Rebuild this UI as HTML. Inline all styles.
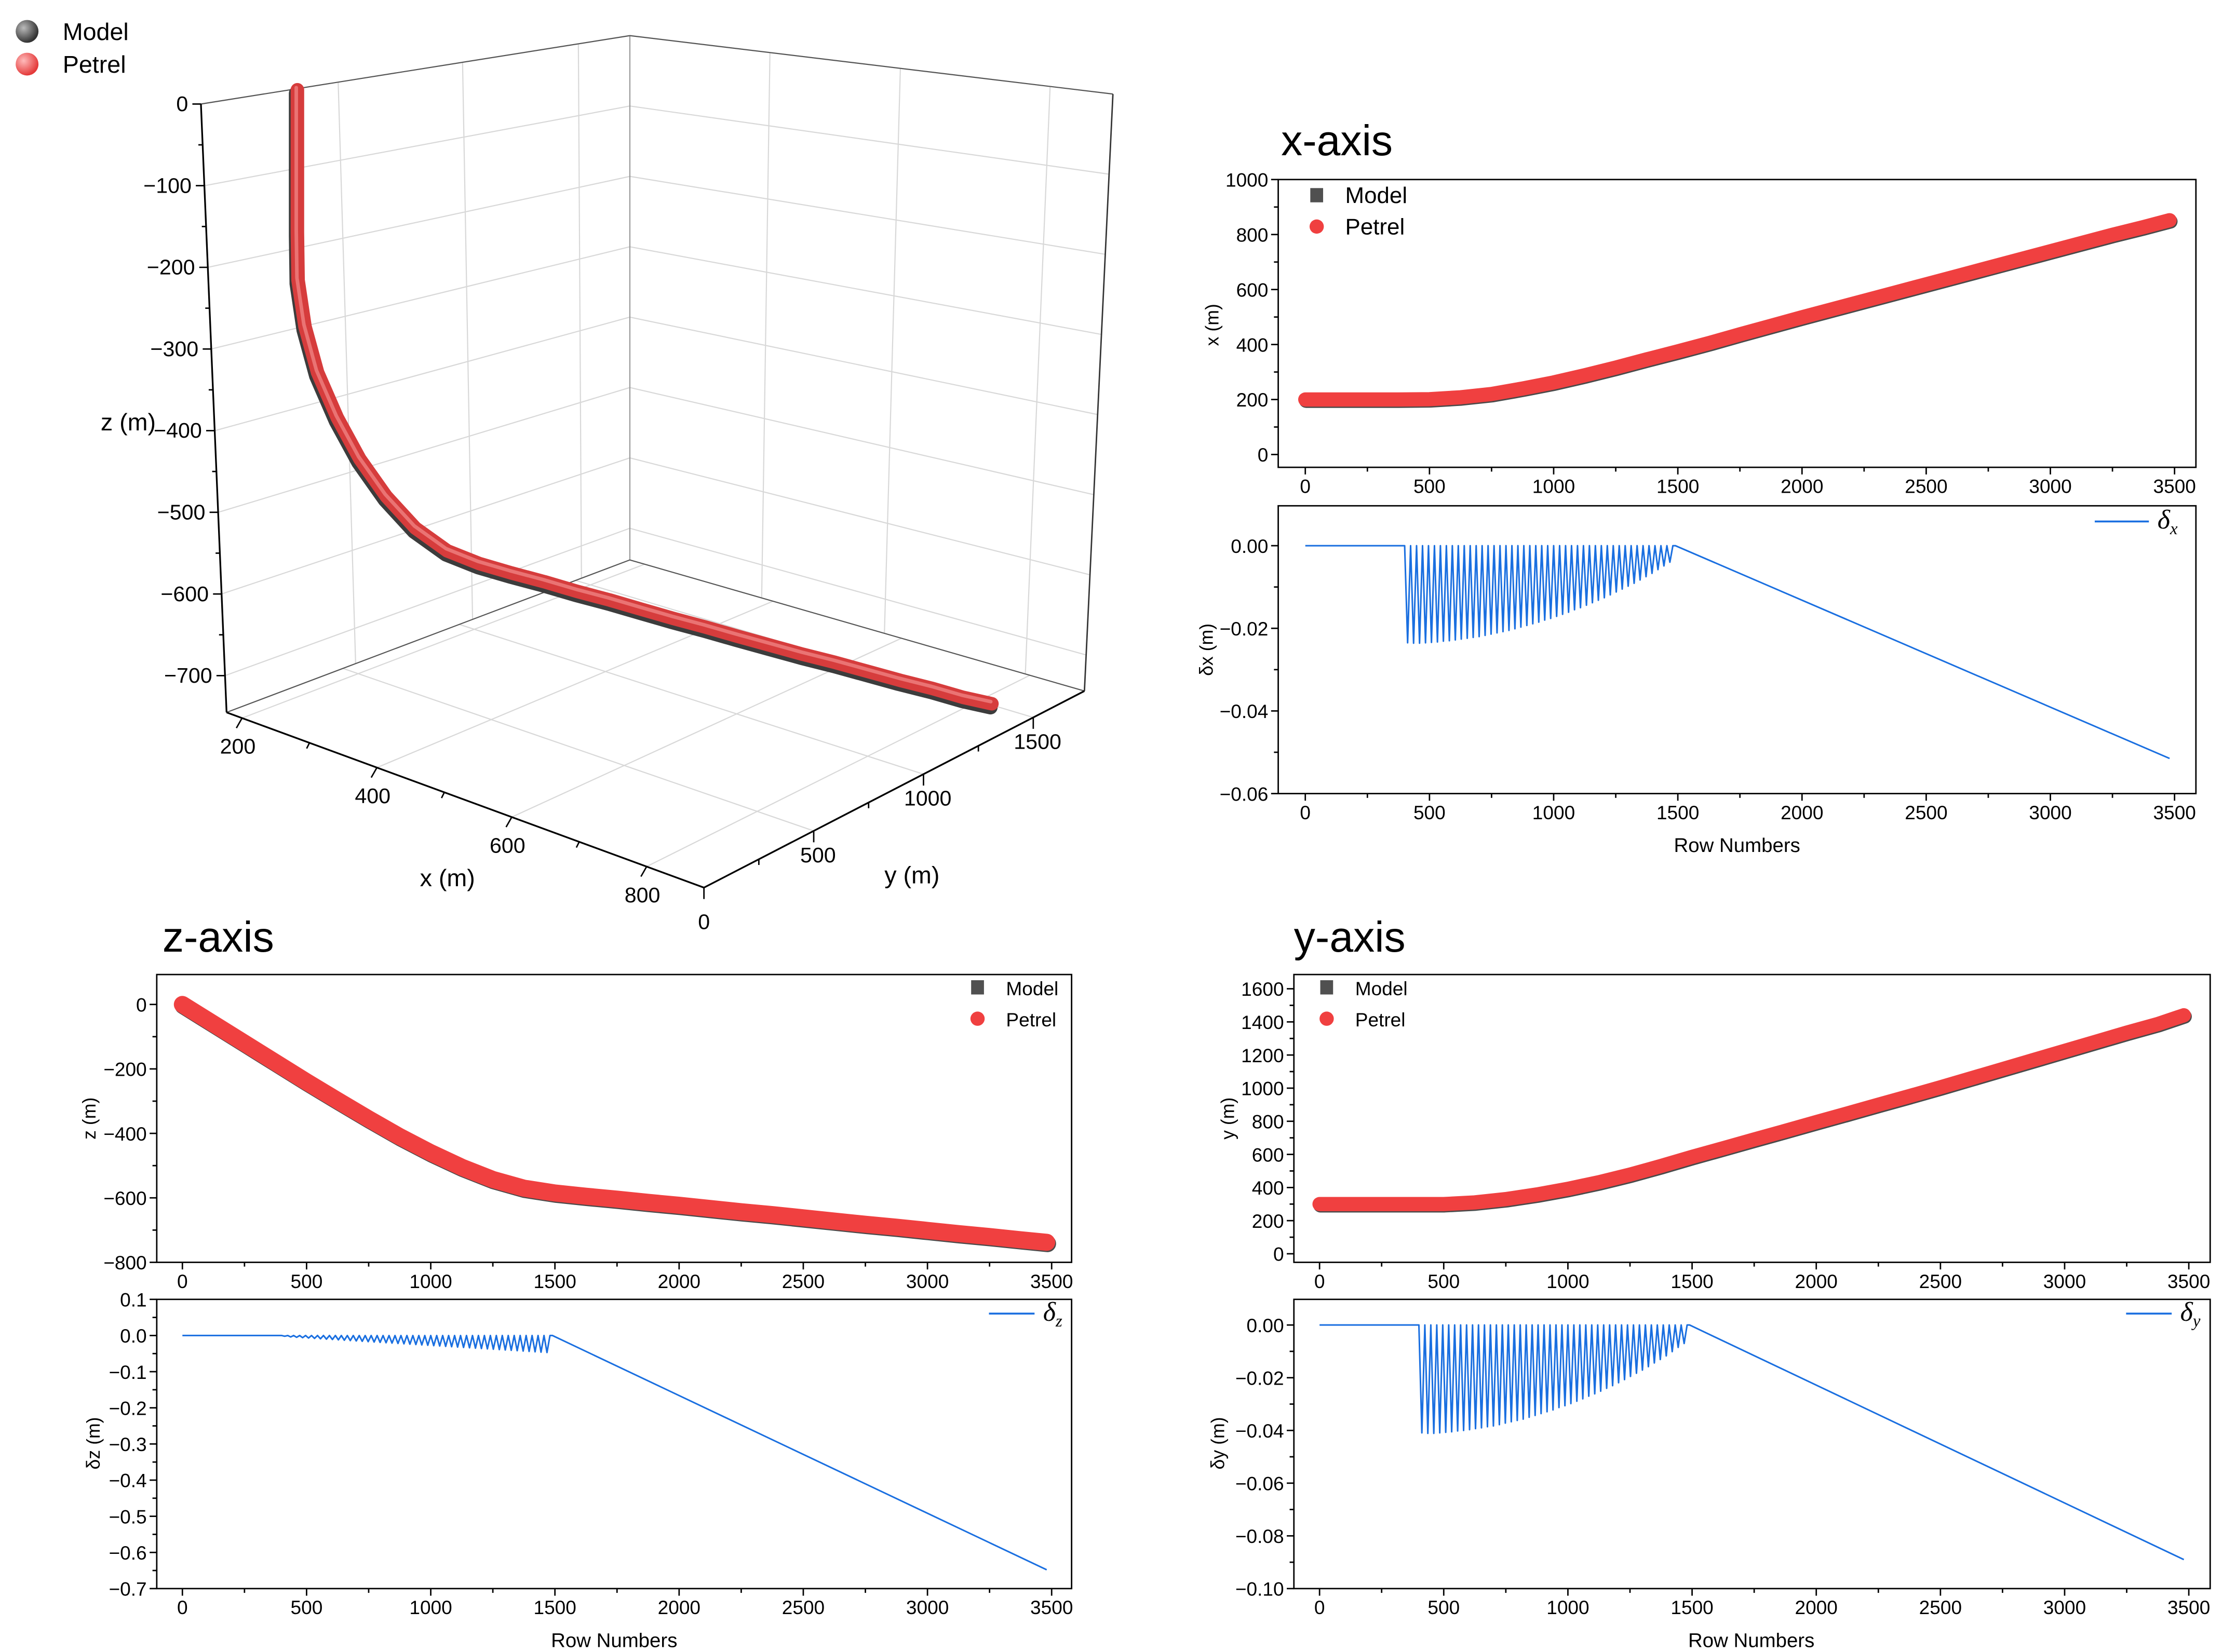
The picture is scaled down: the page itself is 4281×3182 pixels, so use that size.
<!DOCTYPE html>
<html><head><meta charset="utf-8">
<style>
html,body{margin:0;padding:0;background:#fff;}
svg{display:block;font-family:"Liberation Sans",sans-serif;}
text{fill:#000;}
</style></head>
<body>
<svg id="c" width="4281" height="3182" viewBox="0 0 1560 1159.5">
<rect x="0" y="0" width="1560" height="1160" fill="#fff"/>
<g id="g3d"></g>
<g id="g2d"></g>
<text x="899" y="109" font-size="30">x-axis</text>
<text x="114" y="668" font-size="30">z-axis</text>
<text x="908" y="668" font-size="30">y-axis</text>
</svg>
<script>
// ---------- data ----------
const rows = [0,125,250,375,500,625,750,875,1000,1125,1250,1375,1500,1625,1750,1875,2000,2125,2250,2375,2500,2625,2750,2875,3000,3125,3250,3375,3480];
const xVals = [200,200,200,200,201,208,220,240,262,288,316,346,375,405,437,468,499,529,559,589,619,649,679,709,739,769,799,827,852];
const yVals = [300,300,300,300,300,310,330,358,392,432,478,530,585,637,690,742,795,847,900,952,1005,1060,1115,1170,1225,1280,1335,1387,1440];
const zVals = [0,-60,-120,-180,-240,-298,-355,-410,-460,-505,-543,-570,-585,-595,-604,-614,-623,-633,-643,-652,-662,-672,-682,-691,-701,-711,-720,-730,-738];

const oscRows = [412,436,460,484,508,532,556,580,604,628,652,676,700,724,748,772,796,820,844,868,892,916,940,964,988,1012,1036,1060,1084,1108,1132,1156,1180,1204,1228,1252,1276,1300,1324,1348,1372,1396,1420,1444,1468];
const dxTroughs = [-.0235,-.0236,-.0236,-.0235,-.0234,-.0233,-.0231,-.0230,-.0228,-.0226,-.0224,-.0222,-.0220,-.0217,-.0214,-.0211,-.0208,-.0205,-.0201,-.0197,-.0193,-.0189,-.0185,-.0180,-.0176,-.0171,-.0166,-.0161,-.0155,-.0150,-.0144,-.0138,-.0132,-.0126,-.0119,-.0112,-.0105,-.0098,-.0091,-.0083,-.0075,-.0067,-.0058,-.0049,-.0040];
const dyTroughs = [-.0409,-.0411,-.0411,-.0409,-.0407,-.0405,-.0402,-.0400,-.0397,-.0393,-.0390,-.0386,-.0383,-.0378,-.0372,-.0367,-.0362,-.0357,-.0350,-.0343,-.0336,-.0329,-.0322,-.0313,-.0306,-.0298,-.0289,-.0280,-.0270,-.0261,-.0251,-.0240,-.0230,-.0219,-.0207,-.0195,-.0183,-.0171,-.0158,-.0144,-.0131,-.0117,-.0101,-.0085,-.0070];
const dzTroughs = [-.002,-.004,-.005,-.006,-.007,-.008,-.009,-.010,-.011,-.012,-.013,-.014,-.015,-.016,-.017,-.018,-.019,-.020,-.021,-.022,-.023,-.024,-.025,-.026,-.027,-.028,-.029,-.030,-.031,-.032,-.033,-.034,-.035,-.036,-.037,-.038,-.039,-.040,-.041,-.042,-.043,-.044,-.045,-.046,-.047];
const flatRows = [0,400];
const linRows = [1490,3480];
const dxLin = [0,-0.0515];
const dyLin = [0,-0.089];
const dzLin = [0,-0.648];

const rowTicks = [0,500,1000,1500,2000,2500,3000,3500];
const xTicks = [0,200,400,600,800,1000];
const zTicks = [0,-200,-400,-600,-800];
const yTicks = [0,200,400,600,800,1000,1200,1400,1600];
const dxTicks = [0,-0.02,-0.04,-0.06];
const dxTickLabels = ['0.00','\u22120.02','\u22120.04','\u22120.06'];
const dzTicks = [0.1,0,-0.1,-0.2,-0.3,-0.4,-0.5,-0.6,-0.7];
const dzTickLabels = ['0.1','0.0','\u22120.1','\u22120.2','\u22120.3','\u22120.4','\u22120.5','\u22120.6','\u22120.7'];
const dyTicks = [0,-0.02,-0.04,-0.06,-0.08,-0.10];
const dyTickLabels = ['0.00','\u22120.02','\u22120.04','\u22120.06','\u22120.08','\u22120.10'];

const z3Ticks = [0,-100,-200,-300,-400,-500,-600,-700];
const x3Ticks = [200,400,600,800];
const y3Ticks = [0,500,1000,1500];

// ---------- helpers ----------
const svg = document.getElementById('c');
const NS = svg.namespaceURI;
function mk(tag, attrs, parent){
  const e = document.createElementNS(NS, tag);
  for (const k in attrs) e.setAttribute(k, attrs[k]);
  parent.appendChild(e);
  return e;
}
function fmt(v){ return (v<0?'\u2212':'') + Math.abs(v); }
function lin(d0,d1,p0,p1){ return v => p0 + (v-d0)/(d1-d0)*(p1-p0); }
const g2 = document.getElementById('g2d');

function panel(name, L, R, T, B, sx, sy, yT, yLab, yMinorStep, yMinMax){
  const g = mk('g', {}, g2);
  
  
  const fr = mk('rect', {x:L, y:T, width:R-L, height:B-T, fill:'none', stroke:'#000', 'stroke-width':1}, g);
  
  
  for (let v=0; v<=3500; v+=250){
    const major = v%500===0;
    const t = mk('line', {x1:sx(v), x2:sx(v), y1:B, y2:B+(major?5:3), stroke:'#000','stroke-width':1}, g);
    
    
  }
  rowTicks.forEach(v=>{
    const t = mk('text', {x:sx(v), y:B+18, 'font-size':13.5, 'text-anchor':'middle'}, g);
    t.textContent = v;
    
    
  });
  for (let v=yMinMax[0]; v<=yMinMax[1]+1e-9; v+=yMinorStep){
    const yy = sy(v);
    if (yy < T-0.5 || yy > B+0.5) continue;
    const major = yT.some(q=>Math.abs(q-v)<1e-9);
    const t = mk('line', {x1:L-(major?5:3), x2:L, y1:yy, y2:yy, stroke:'#000','stroke-width':1}, g);
    
    
  }
  yT.forEach((v,i)=>{
    const t = mk('text', {x:L-7, y:sy(v)+5, 'font-size':13.5, 'text-anchor':'end'}, g);
    t.textContent = yLab ? yLab[i] : fmt(v);
    
    
  });
  return g;
}
function band(g, name, sx, sy, vals, w){
  const pts = rows.map((r,i)=>sx(r)+','+sy(vals[i])).join(' ');
  const pm = rows.map((r,i)=>(sx(r)+0.6)+','+(sy(vals[i])+0.9)).join(' ');
  const m = mk('polyline', {points:pm, fill:'none', stroke:'#4a4a4a','stroke-width':w,'stroke-linejoin':'round','stroke-linecap':'round'}, g);
  
  
  const p = mk('polyline', {points:pts, fill:'none', stroke:'#f04040','stroke-width':w,'stroke-linejoin':'round','stroke-linecap':'round'}, g);
  
  
}
function deltaLine(g, name, sx, sy, troughs, linVals){
  let d = 'M' + sx(flatRows[0]) + ',' + sy(0) + ' L' + sx(flatRows[1]) + ',' + sy(0);
  oscRows.forEach((r,i)=>{
    d += ' L' + sx(r) + ',' + sy(troughs[i]) + ' L' + sx(r+12) + ',' + sy(0);
  });
  d += ' L' + sx(linRows[0]) + ',' + sy(linVals[0]) + ' L' + sx(linRows[1]) + ',' + sy(linVals[1]);
  const p = mk('path', {d:d, fill:'none', stroke:'#1a6fe0','stroke-width':1.1,'stroke-linejoin':'round'}, g);
  
  
}
function txt(g, name, x, y, s, size, anchor, rot, italic){
  const t = mk('text', {x:x, y:y, 'font-size':size, 'text-anchor':anchor||'start'}, g);
  if (rot) t.setAttribute('transform', 'rotate(-90 '+x+' '+y+')');
  if (italic) t.setAttribute('font-family', '"Liberation Serif",serif');
  t.textContent = s;
  
  
  return t;
}
function legend2(g, name, x, y, size){
  const sq = mk('rect', {x:x-4.5, y:y-5, width:9, height:10, fill:'#505050'}, g);
  
  
  txt(g, name + '-legend-model', x+20, y+5.5, 'Model', size);
  const c = mk('circle', {cx:x, cy:y+22, r:5, fill:'#f04040'}, g);
  
  
  txt(g, name + '-legend-petrel', x+20, y+27.5, 'Petrel', size);
}
function legendD(g, name, x1, x2, y, sub){
  const l = mk('line', {x1:x1, x2:x2, y1:y, y2:y, stroke:'#1a6fe0','stroke-width':1.3}, g);
  
  
  const t = txt(g, name + '-legend-label', x2+6, y+5, '\u03b4', 19, 'start', false, true);
  t.setAttribute('font-style', 'italic');
  const s = mk('tspan', {'font-size':12, dy:4}, t);
  s.textContent = sub;
}

// ---------- x panels ----------
{
  const sx = lin(0,3500,916,1526);
  const sy = lin(0,1000,319,126);
  const g = panel('x-position-panel', 897,1541,126,328, sx, sy, xTicks, null, 100, [0,1000]);
  band(g, 'x-position', sx, sy, xVals, 10);
  legend2(g, 'x-position', 924, 137, 16);
  txt(g, 'x-position-y-axis-title', 855, 228, 'x (m)', 13, 'middle', true);
  const sy2 = lin(0,-0.06,383,557);
  const g2b = panel('x-delta-panel', 897,1541,355,557, sx, sy2, dxTicks, dxTickLabels, 0.01, [-0.06,0.0]);
  deltaLine(g2b, 'x-delta-series', sx, sy2, dxTroughs, dxLin);
  legendD(g2b, 'x-delta', 1470, 1508, 366, 'x');
  txt(g2b, 'x-delta-y-axis-title', 851, 456, '\u03b4x (m)', 13, 'middle', true);
  txt(g2b, 'x-delta-x-axis-title', 1219, 598, 'Row Numbers', 14, 'middle');
}
// ---------- z panels ----------
{
  const sx = lin(0,3500,128,738);
  const sy = lin(0,-800,705,886);
  const g = panel('z-position-panel', 110,752,684,886, sx, sy, zTicks, null, 100, [-800,0]);
  band(g, 'z-position', sx, sy, zVals, 12);
  legend2(g, 'z-position', 686, 693, 13.5);
  txt(g, 'z-position-y-axis-title', 67, 785, 'z (m)', 13, 'middle', true);
  const sy2 = lin(0.1,-0.7,912,1115);
  const gb = panel('z-delta-panel', 110,752,912,1115, sx, sy2, dzTicks, dzTickLabels, 0.05, [-0.7,0.1]);
  deltaLine(gb, 'z-delta-series', sx, sy2, dzTroughs, dzLin);
  legendD(gb, 'z-delta', 694, 726, 922, 'z');
  txt(gb, 'z-delta-y-axis-title', 70, 1013, '\u03b4z (m)', 13, 'middle', true);
  txt(gb, 'z-delta-x-axis-title', 431, 1156, 'Row Numbers', 14, 'middle');
}
// ---------- y panels ----------
{
  const sx = lin(0,3500,926,1536);
  const sy = lin(0,1600,880,694);
  const g = panel('y-position-panel', 908,1551,684,886, sx, sy, yTicks, null, 100, [0,1600]);
  band(g, 'y-position', sx, sy, yVals, 10);
  legend2(g, 'y-position', 931, 693, 13.5);
  txt(g, 'y-position-y-axis-title', 866, 785, 'y (m)', 13, 'middle', true);
  const sy2 = lin(0,-0.1,930,1115);
  const gb = panel('y-delta-panel', 908,1551,912,1115, sx, sy2, dyTicks, dyTickLabels, 0.01, [-0.1,0.0]);
  deltaLine(gb, 'y-delta-series', sx, sy2, dyTroughs, dyLin);
  legendD(gb, 'y-delta', 1492, 1524, 922, 'y');
  txt(gb, 'y-delta-y-axis-title', 859, 1013, '\u03b4y (m)', 13, 'middle', true);
  txt(gb, 'y-delta-x-axis-title', 1229, 1156, 'Row Numbers', 14, 'middle');
}

// ---------- 3D plot ----------
{
  const g = document.getElementById('g3d');
  const FTL=[141,73], FBL=[159,500], BT=[442,25], BB=[442,393], RT=[781,66], RB=[761,485], FC=[494,623];
  const L = (a,b,t)=>[a[0]+(b[0]-a[0])*t, a[1]+(b[1]-a[1])*t];
  function ln(a,b,col,w,name){
    const e = mk('line', {x1:a[0],y1:a[1],x2:b[0],y2:b[1],stroke:col,'stroke-width':w}, g);
    
    
  }
  const gc = '#d8d8d8';
  const zFrac = z => -z/745;
  z3Ticks.forEach(z=>{ ln(L(FTL,FBL,zFrac(z)), L(BT,BB,zFrac(z)), gc, 0.8, 'left-wall-gridline'); });
  [0.32,0.61,0.88].forEach(t=>{ ln(L(FTL,BT,t), L(FBL,BB,t), gc, 0.8, 'left-wall-gridline'); });
  z3Ticks.forEach(z=>{ ln(L(BT,BB,zFrac(z)), L(RT,RB,zFrac(z)), gc, 0.8, 'right-wall-gridline'); });
  [0.29,0.56,0.87].forEach(t=>{ ln(L(BT,RT,t), L(BB,RB,t), gc, 0.8, 'right-wall-gridline'); });
  x3Ticks.forEach(x=>{ const t=(x-177)/708; ln(L(FBL,FC,t), L(BB,RB,t), gc, 0.8, 'floor-gridline'); });
  y3Ticks.forEach(y=>{ const t=y/1733; ln(L(FC,RB,t), L(FBL,BB,t), gc, 0.8, 'floor-gridline'); });
  ln(BT,BB,'#999',0.8,'back-edge'); ln(FBL,BB,'#555',0.8,'floor-back-edge'); ln(BB,RB,'#555',0.8,'floor-back-edge');
  ln(FTL,BT,'#555',0.8,'top-edge'); ln(BT,RT,'#555',0.8,'top-edge'); ln(RT,RB,'#333',1,'right-edge');
  ln(FTL,FBL,'#000',1.2,'z-axis-line'); ln(FBL,FC,'#000',1.2,'x-axis-line'); ln(FC,RB,'#000',1.2,'y-axis-line');
  for (let z=0; z>=-740; z-=50){
    const p = L(FTL,FBL,zFrac(z)); const major = z%100===0;
    ln([p[0]-(major?6:3),p[1]], p, '#000', 1, 'z-tick');
  }
  z3Ticks.forEach(z=>{ const p=L(FTL,FBL,zFrac(z)); txt(g,'z-tick-label',p[0]-9,p[1]+5,fmt(z),15,'end'); });
  for (let x=200; x<=850; x+=100){
    const p = L(FBL,FC,(x-177)/708); const major = x%200===0;
    ln(p, [p[0]-(major?4:2), p[1]+(major?7:4)], '#000', 1, 'x-tick');
  }
  x3Ticks.forEach(x=>{ const p=L(FBL,FC,(x-177)/708); txt(g,'x-tick-label',p[0]-3,p[1]+25,x,15,'middle'); });
  for (let y=0; y<=1700; y+=250){
    const p = L(FC,RB,y/1733); const major = y%500===0;
    ln(p, [p[0], p[1]+(major?8:4)], '#000', 1, 'y-tick');
  }
  y3Ticks.forEach(y=>{ const p=L(FC,RB,y/1733); txt(g,'y-tick-label',p[0]+(y===0?0:3),p[1]+(y===0?29:22),y,15,'middle'); });
  txt(g,'z-axis-title',90,302,'z (m)',17,'middle');
  txt(g,'x-axis-title',314,622,'x (m)',17,'middle');
  txt(g,'y-axis-title',640,620,'y (m)',17,'middle');
  const P = (x,y,z)=>[67+0.473*x+0.157*y, 52.6+0.175*x-0.082*y-0.556*z];
  const pr = rows.map((r,i)=>P(xVals[i],yVals[i],zVals[i]));
  const toPts = (dx,dy)=>pr.map(p=>(p[0]+dx)+','+(p[1]+dy)).join(' ');
  const a = mk('polyline', {points:toPts(-1,2.5), fill:'none', stroke:'#3c3c3c','stroke-width':10,'stroke-linecap':'round','stroke-linejoin':'round'}, g);
  
  
  const b = mk('polyline', {points:toPts(0,0), fill:'none', stroke:'#d63c3c','stroke-width':9.5,'stroke-linecap':'round','stroke-linejoin':'round'}, g);
  
  
  const h = mk('polyline', {points:toPts(-0.8,-1.5), fill:'none', stroke:'#f28a8a','stroke-width':2.5,'stroke-linecap':'round','stroke-linejoin':'round','opacity':0.7}, g);
  
  
  const defs = mk('defs', {}, g);
  const rg1 = mk('radialGradient', {id:'gg', cx:'35%', cy:'35%', r:'65%'}, defs);
  mk('stop', {offset:'0', 'stop-color':'#bbb'}, rg1); mk('stop', {offset:'1', 'stop-color':'#333'}, rg1);
  const rg2 = mk('radialGradient', {id:'rg', cx:'35%', cy:'35%', r:'65%'}, defs);
  mk('stop', {offset:'0', 'stop-color':'#fbb'}, rg2); mk('stop', {offset:'1', 'stop-color':'#e43a3a'}, rg2);
  const s1 = mk('circle', {cx:19, cy:22, r:8, fill:'url(#gg)'}, g);
  
  
  const s2 = mk('circle', {cx:19, cy:45, r:8, fill:'url(#rg)'}, g);
  
  
  txt(g,'legend-model-label',44,28,'Model',17);
  txt(g,'legend-petrel-label',44,51,'Petrel',17);
}
</script>
</body></html>
